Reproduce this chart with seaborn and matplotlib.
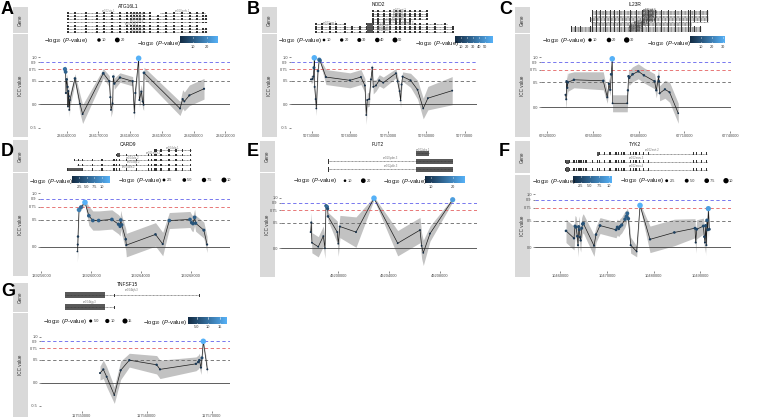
import numpy as np
import pandas as pd
import matplotlib
matplotlib.use("Agg")
import matplotlib.pyplot as plt
from matplotlib.colors import LinearSegmentedColormap
from matplotlib.patches import Rectangle
import seaborn as sns

sns.set_theme(style="white")
plt.rcParams["font.family"] = ["Liberation Sans", "DejaVu Sans"]
plt.rcParams["mathtext.fontset"] = "custom"
plt.rcParams["mathtext.rm"] = "Liberation Sans"
plt.rcParams["mathtext.it"] = "Liberation Sans:italic"

W, H = 763, 417
cmap = LinearSegmentedColormap.from_list("gg", ["#132B43", "#56B1F7"])
nan = np.nan

# ---------------- ICC data (position, ICC, CI half width, -log10 p) ----------------
a_pos = [234159460, 234159680, 234159780, 234160000, 234160310, 234160410, 234160510, 234160730, 234160830,
         234161040, 234162620, 234164200, 234165040, 234171560, 234173450, 234173770, 234173980, 234174500,
         234174710, 234175030, 234176810, 234180810, 234181340, 234181650, 234182700, 234182910, 234183540,
         234183960, 234184280, 234184390, 234195740, 234196580, 234197110, 234198690, 234203310]
a_icc = [0.75, 0.69, 0.24, 0.53, 0.37, -0.05, 0.28, 0.17, -0.12, 0.09, 0.55, 0.01, -0.21, 0.66, 0.49, 0.15,
         -0.12, 0.02, 0.59, 0.44, 0.57, 0.49, -0.18, 0.24, 0.98, 0.09, 0.27, 0.06, -0.01, 0.67, -0.09, 0.11,
         0.06, 0.19, 0.33]
a_ci = [0.08, 0.10, 0.15, 0.12, 0.15, 0.15, 0.15, 0.15, 0.15, 0.15, 0.10, 0.20, 0.20, 0.10, 0.12, 0.15, 0.15,
        0.15, 0.10, 0.12, 0.10, 0.10, 0.15, 0.15, 0.04, 0.15, 0.15, 0.15, 0.12, 0.12, 0.15, 0.20, 0.20, 0.22, 0.22]
a_logp = [15, 12, 3, 5, 3, 1.3, 3, 2, 2, 2, 5, 2, 2, 6, 4, 3, 2, 2, 5, 4, 4, 4, 2, 3, 27.3, 2, 3, 2, 2, 6,
          2, 3, 2, 3, 3]

b_pos = [50729820, 50730250, 50730430, 50730600, 50730690, 50730780, 50731040, 50731210, 50731650, 50731990,
         50732170, 50733730, 50740000, 50742870, 50743920, 50744260, 50744520, 50745050, 50745480, 50745830,
         50746090, 50746790, 50747660, 50748700, 50752010, 50752450, 50752970, 50753230, 50753490, 50753750,
         50755840, 50757670, 50759150, 50760370, 50766720]
b_icc = [0.53, 0.54, 0.59, 0.78, 0.99, 0.37, 0.11, -0.09, 0.71, 0.95, 0.93, 0.58, 0.51, 0.58, 0.40, -0.23,
         0.09, 0.11, 0.53, 0.78, 0.37, 0.40, 0.51, 0.46, 0.66, 0.49, 0.28, 0.08, 0.42, 0.59, 0.51, 0.31,
         -0.09, 0.13, 0.29]
b_ci = [0.08, 0.08, 0.08, 0.06, 0.03, 0.12, 0.15, 0.15, 0.08, 0.04, 0.04, 0.16, 0.16, 0.16, 0.15, 0.2, 0.15,
        0.15, 0.12, 0.08, 0.15, 0.12, 0.12, 0.12, 0.1, 0.12, 0.15, 0.15, 0.12, 0.1, 0.15, 0.2, 0.22, 0.25, 0.3]
b_logp = [3, 3, 4, 15, 64, 3, 2, 1, 10, 35, 25, 4, 4, 4, 3, 1, 2, 2, 3, 5, 2, 3, 3, 3, 4, 3, 2, 0.5, 3, 4,
          3, 2, 1, 2, 2]

c_pos = [67632020, 67632460, 67632670, 67633110, 67633550, 67637490, 67656750, 67659380, 67660470, 67661350,
         67662000, 67662660, 67662880, 67672510, 67672940, 67673380, 67673820, 67676010, 67679730, 67683450,
         67690450, 67691550, 67693080, 67693300, 67693740, 67697240, 67700300, 67705990]
c_icc = [0.25, 0.16, 0.52, 0.39, 0.50, 0.55, 0.53, 0.20, 0.47, 0.35, 0.66, 0.97, 0.08, 0.08, 0.34, 0.62,
         0.59, 0.66, 0.72, 0.64, 0.52, 0.34, 0.61, 0.52, 0.28, 0.36, 0.30, -0.12]
c_ci = [0.18, 0.18, 0.18, 0.18, 0.18, 0.16, 0.18, 0.12, 0.12, 0.12, 0.1, 0.03, 0.17, 0.17, 0.12, 0.15, 0.15,
        0.15, 0.15, 0.15, 0.15, 0.15, 0.15, 0.15, 0.15, 0.18, 0.2, 0.2]
c_logp = [2, 2, 4, 3, 4, 4, 4, 2, 3, 3, 6, 31.5, 1, 1, 3, 5, 4, 5, 5, 4, 4, 3, 4, 4, 2, 3, 2, 0.2]

d_pos = [139258900, 139258930, 139258950, 139259030, 139259190, 139259510, 139259820, 139260140, 139260610,
         139261670, 139262200, 139262330, 139262380, 139262460, 139262780, 139262830, 139265170, 139265750,
         139266280, 139267940, 139268070, 139268180, 139268310, 139268390, 139269050, 139269310]
d_icc = [-0.09, 0.04, 0.19, 0.69, 0.74, 0.83, 0.58, 0.49, 0.49, 0.51, 0.42, 0.38, 0.50, 0.41, 0.14, 0.03,
         0.23, 0.05, 0.49, 0.51, 0.45, 0.43, 0.55, 0.44, 0.31, 0.04]
d_ci = [0.2, 0.2, 0.2, 0.06, 0.05, 0.04, 0.18, 0.18, 0.18, 0.18, 0.18, 0.18, 0.18, 0.18, 0.2, 0.22, 0.22,
        0.22, 0.15, 0.15, 0.15, 0.15, 0.15, 0.15, 0.15, 0.15]
d_logp = [0.1, 0.8, 1.5, 8, 6, 12.8, 5, 5, 5, 5, 4, 4, 5, 4, 2, 1, 2, 1, 5, 5, 4, 4, 5, 4, 3, 1]

e_pos = [49197820, 49197870, 49197920, 49198420, 49198820, 49198950, 49199030, 49199110, 49199160, 49199190,
         49199920, 49200000, 49200130, 49201400, 49202820, 49204690, 49206450, 49206580, 49206710, 49207240,
         49209030]
e_icc = [0.32, 0.51, 0.11, 0.03, 0.24, 0.0, 0.84, 0.82, 0.78, 0.63, 0.32, 0.09, 0.43, 0.32, 0.99, 0.10,
         0.36, 0.05, -0.09, 0.29, 0.96]
e_ci = [0.2, 0.2, 0.2, 0.2, 0.2, 0.2, 0.05, 0.05, 0.05, 0.08, 0.22, 0.25, 0.22, 0.3, 0.03, 0.25, 0.25, 0.25,
        0.25, 0.15, 0.04]
e_logp = [8, 8.5, 7.6, 7.5, 7.8, 7.4, 13, 16, 12, 10, 8, 7.5, 8.5, 8, 25.6, 7.6, 8, 7.5, 7.4, 8, 23]

f_pos = [10461210, 10462920, 10463140, 10463350, 10463640, 10463780, 10463920, 10464060, 10464210, 10464350,
         10464560, 10464780, 10464920, 10467210, 10467630, 10468490, 10471920, 10472200, 10472490, 10472770,
         10473130, 10473840, 10474130, 10474340, 10474560, 10475060, 10476340, 10477060, 10479200, 10484410,
         10488830, 10488980, 10489190, 10490620, 10490830, 10490970, 10491120, 10491260, 10491400, 10491550,
         10491690, 10491900]
f_icc = [0.31, 0.17, 0.40, 0.38, 0.21, 0.04, 0.39, 0.33, 0.19, 0.13, 0.36, 0.44, 0.45, 0.03, 0.24, 0.41,
         0.33, 0.38, 0.35, 0.39, 0.42, 0.53, 0.58, 0.64, 0.54, 0.04, -0.08, 0.79, 0.15, 0.28, 0.36, 0.09,
         0.34, 0.40, 0.20, 0.09, 0.41, 0.04, 0.51, 0.33, 0.73, 0.34]
f_ci = [0.22, 0.22, 0.2, 0.2, 0.22, 0.22, 0.2, 0.2, 0.22, 0.22, 0.2, 0.18, 0.18, 0.2, 0.15, 0.15, 0.15, 0.15,
        0.15, 0.15, 0.15, 0.15, 0.12, 0.1, 0.12, 0.15, 0.1, 0.04, 0.25, 0.25, 0.18, 0.2, 0.18, 0.15, 0.2, 0.2,
        0.15, 0.2, 0.12, 0.15, 0.05, 0.15]
f_logp = [2, 1.5, 3, 3, 2, 1, 3, 2.5, 1.5, 1.5, 3, 3.5, 3.5, 1, 2, 2.5, 2.5, 3, 2.5, 3, 3.5, 4, 4.5, 5, 4, 1,
          0.44, 10.9, 1.5, 2, 2.5, 1, 2.5, 3, 2, 1, 3, 1, 4, 2.5, 9.5, 2.5]

g_pos = [117552820, 117553330, 117553840, 117555020, 117556000, 117557330, 117561530, 117562050, 117567580,
         117567940, 117568100, 117568350, 117568510, 117568710, 117569330]
g_icc = [0.21, 0.29, 0.13, -0.27, 0.27, 0.49, 0.39, 0.29, 0.41, 0.45, 0.49, 0.33, 0.54, 0.90, 0.29]
g_ci = [0.15, 0.2, 0.22, 0.18, 0.2, 0.15, 0.2, 0.2, 0.15, 0.15, 0.15, 0.15, 0.12, 0.03, 0.1]
g_logp = [2, 2.5, 2, 1.3, 2.5, 3, 3, 2.5, 3, 3.5, 3.5, 2.5, 5, 18, 2]

# ---------------- gene models ----------------
a_tx_start = [234160410, 234189430, 234160410, 234160410, 234160410, 234160410, 234160410, 234160410]
a_tx_end = [234186280, 234203630, 234204260, 234204260, 234204260, 234201100, 234204260, 234204260]
a_tx_row = [1, 1, 2, 3, 4, 5, 6, 7]
a_tx_name = ["uc002vtx.1", "uc010zmb.1", "uc002vty.3", "uc002vtz.3", "uc002vua.3", "uc002vub.3",
             "uc010fyy.3", "uc010fyz.3"]
a_thick_s = [nan] * 8
a_thick_e = [nan] * 8
a_exons = [234160410, 234162620, 234166090, 234169560, 234171770, 234174290, 234176810, 234179020, 234180280,
           234181230, 234182180, 234183120, 234184390, 234186280, 234188800, 234191330, 234193850, 234196370,
           234198900, 234201100, 234203000, 234203940]

b_tx_start = [50746010, 50746010, 50746010, 50746010, 50746010, 50731120, 50744440, 50731120, 50731120, 50731120]
b_tx_end = [50760100, 50760100, 50760100, 50760100, 50755670, 50738690, 50765330, 50766890, 50766890, 50766890]
b_tx_row = [1, 2, 3, 4, 5, 6, 6, 7, 8, 9]
b_tx_name = ["uc002egt.2", "uc010vgl.2", "uc002egu.2", "uc010vgm.1", "uc002egv.1", "uc002ego.1",
             "uc002egq.3", "uc002egr.3", "uc002egs.3", "uc010cbk.2"]
b_thick_s = [nan, nan, nan, nan, nan, nan, 50744440, 50744440, 50744440, 50744440]
b_thick_e = [nan, nan, nan, nan, nan, nan, 50746010, 50746010, 50746010, 50746010]
b_exons = [50731120, 50732690, 50734780, 50736340, 50738690, 50740520, 50742610, 50744440, 50745220, 50746010,
           50747310, 50748880, 50750440, 50752010, 50753050, 50754360, 50755670, 50756970, 50758280, 50760100,
           50762190, 50764800, 50766890]

c_tx_start = [67649740, 67649740, 67649740, 67649740, 67649740, 67649740, 67648430, 67648430, 67648430,
              67648430, 67649740, 67649740, 67649740, 67635960, 67635960, 67635960, 67635960, 67635960]
c_tx_end = [67725250, 67725250, 67725250, 67725250, 67725250, 67725250, 67725250, 67725250, 67725250,
            67725250, 67714090, 67714090, 67714090, 67720660, 67720660, 67720660, 67720660, 67720660]
c_tx_row = list(range(1, 19))
c_tx_name = ["uc001ddi.1", "uc001ddj.1", "uc009wbh.1", "uc001ddk.1", "uc001ddl.1", "uc009wbi.1",
             "uc001ddm.2", "uc001ddn.2", "uc010ooy.1", "uc010ooz.1", "uc001ddo.1", "uc001ddp.1",
             "uc009wbj.1", "uc001ddq.3", "uc001ddr.3", "uc010opa.1", "uc001dds.1", "uc001ddt.1"]
c_thick_s = [nan] * 18
c_thick_e = [nan] * 18
c_exons = [67635960, 67638580, 67641870, 67648430, 67649740, 67652370, 67655000, 67658280, 67661560, 67664190,
           67667470, 67670760, 67674700, 67678630, 67682570, 67686510, 67691110, 67695050, 67699650, 67704240,
           67708180, 67712780, 67714090, 67716720, 67720660, 67725250]

d_tx_start = [139265070, 139262060, 139258640, 139258900, 139258110]
d_tx_end = [139267990, 139267990, 139267990, 139267990, 139267990]
d_tx_row = [1, 2, 3, 4, 5]
d_tx_name = ["uc004clq.1", "uc011mez.2", "uc004clo.2", "uc004clp.2", "uc004cln.2"]
d_thick_s = [nan, 139262060, nan, nan, 139258110]
d_thick_e = [nan, 139262300, nan, nan, 139259300]
d_exons = [139258110, 139258350, 139258660, 139258980, 139259300, 139260090, 139260880, 139261830, 139262060,
           139262300, 139262850, 139263640, 139264590, 139264830, 139265070, 139265220, 139265620, 139266250,
           139266810, 139267360, 139267990]

e_tx_start = [49206130, 49199210, 49199210]
e_tx_end = [49207180, 49209080, 49209080]
e_tx_row = [1, 2, 3]
e_tx_name = ["uc002pkg.1", "uc010ydm.3", "uc002pkh.3"]
e_thick_s = [49206130, 49206130, 49206130]
e_thick_e = [49207180, 49209080, 49209080]
e_exons = [49199210]

f_tx_start = [10467910, 10461210, 10461210]
f_tx_end = [10491340, 10491340, 10491340]
f_tx_row = [1, 2, 3]
f_tx_name = ["uc002mot.2", "uc002mou.3", "uc002mov.4"]
f_thick_s = [10467910, 10461210, 10461210]
f_thick_e = [10468340, 10461920, 10461920]
f_exons = [10461210, 10461920, 10462920, 10463500, 10463840, 10464210, 10464570, 10464910, 10465490, 10466930,
           10467910, 10468340, 10469410, 10470630, 10471920, 10472410, 10473140, 10473630, 10475060, 10475620,
           10476200, 10476910, 10477760, 10478830, 10488470, 10489200, 10490270, 10491340]

g_tx_start = [117547430, 117547430]
g_tx_end = [117568090, 117555020]
g_tx_row = [1, 2]
g_tx_name = ["uc004bjh.3", "uc004bjg.3"]
g_thick_s = [117547430, 117547430]
g_thick_e = [117553580, 117553580]
g_exons = [117555020, 117555120, 117556050, 117568090]

# ---------------- layout (pixel coordinates) ----------------
panels = [
    dict(letter="A", letter_xy=(1, 1), title="ATG16L1", title_xy=(128, 6), strip_x=(13, 28),
         gene_strip=(7.3, 32.7), icc_strip=(34.3, 137), gene_box=(40, 11, 230, 34), icc_box=(40, 55, 230, 131),
         xlim=(234151600, 234211500), ylim=(-0.57, 1.05),
         xticks=[234160000, 234170000, 234180000, 234190000, 234200000, 234210000],
         exon_px=1.2, exon_h=0.6, thick_h=0.8, label_off=0.5, label_color="#8A8A8A",
         size_title=(44, 40), size_dots=[99, 117.3], size_breaks=[10, 20],
         color_title=(137, 43), bar=(180, 37, 218, 43.3), color_breaks=[10, 20]),
    dict(letter="B", letter_xy=(247, 1), title="NOD2", title_xy=(378, 4.5), strip_x=(262, 277),
         gene_strip=(7.3, 32.7), icc_strip=(34.3, 137), gene_box=(291, 10, 477, 33), icc_box=(291, 55, 477, 131),
         xlim=(50724600, 50773200), ylim=(-0.57, 1.05),
         xticks=[50730000, 50740000, 50750000, 50760000, 50770000],
         exon_px=1.4, exon_h=0.85, thick_h=1.0, label_off=0.5, label_color="#777777",
         size_title=(278, 40), size_dots=[324, 341.7, 359.3, 377.3, 395], size_breaks=[10, 20, 30, 40, 50],
         color_title=(415, 43), bar=(455, 37, 493, 43.3), color_breaks=[10, 20, 30, 40, 50]),
    dict(letter="C", letter_xy=(499, 1), title="IL23R", title_xy=(635, 4.5), strip_x=(515, 530),
         gene_strip=(7.3, 32.7), icc_strip=(34.3, 137), gene_box=(541, 10, 731, 32), icc_box=(541, 55, 731, 131),
         xlim=(67615900, 67740600), ylim=(-0.474, 1.046),
         xticks=[67620000, 67650000, 67680000, 67710000, 67740000],
         exon_px=1.6, exon_h=1.0, thick_h=1.0, label_off=0.5, label_color="#333333",
         size_title=(542, 40), size_dots=[590, 609, 626.7], size_breaks=[10, 20, 30],
         color_title=(647, 43), bar=(690, 37, 725, 43.3), color_breaks=[10, 20, 30]),
    dict(letter="D", letter_xy=(1, 143), title="CARD9", title_xy=(128, 144), strip_x=(13, 28),
         gene_strip=(140, 171.7), icc_strip=(173.3, 276), gene_box=(40, 148, 230, 172), icc_box=(40, 191, 230, 271),
         xlim=(139255900, 139271150), ylim=(-0.455, 1.043),
         xticks=[139256000, 139260000, 139264000, 139268000],
         exon_px=1.4, exon_h=0.5, thick_h=0.75, label_off=0.5, label_color="#777777",
         size_title=(118, 180), size_dots=[164, 184.3, 204, 224], size_breaks=[2.5, 5.0, 7.5, 10.0],
         color_title=(29, 181.5), bar=(72, 176.7, 110, 183.3), color_breaks=[2.5, 5.0, 7.5, 10.0]),
    dict(letter="E", letter_xy=(247, 143), title="FUT2", title_xy=(378, 144), strip_x=(260, 275),
         gene_strip=(141, 171.7), icc_strip=(173.3, 277), gene_box=(281, 149.3, 477, 173.3),
         icc_box=(281, 195, 477, 271),
         xlim=(49195480, 49210950), ylim=(-0.449, 1.053),
         xticks=[49200000, 49204000, 49208000],
         exon_px=0.8, exon_h=0.55, thick_h=0.56, label_off=0.45, label_color="#777777",
         size_title=(293, 180.7), size_dots=[345, 363.3], size_breaks=[10, 20],
         color_title=(383, 181.7), bar=(425, 176.7, 465, 183.3), color_breaks=[10, 20]),
    dict(letter="F", letter_xy=(499, 143), title="TYK2", title_xy=(635, 145), strip_x=(515, 530),
         gene_strip=(141, 172.7), icc_strip=(174.5, 277), gene_box=(535, 150, 731, 173.5),
         icc_box=(535, 192, 731, 271),
         xlim=(10454570, 10496540), ylim=(-0.447, 1.043),
         xticks=[10460000, 10470000, 10480000, 10490000],
         exon_px=1.3, exon_h=0.4, thick_h=0.55, label_off=0.45, label_color="#777777",
         size_title=(620, 180.7), size_dots=[666.7, 686.7, 706.7, 726], size_breaks=[2.5, 5.0, 7.5, 10.0],
         color_title=(532, 181.7), bar=(573, 176, 612, 183), color_breaks=[2.5, 5.0, 7.5, 10.0]),
    dict(letter="G", letter_xy=(1, 283), title="TNFSF15", title_xy=(128, 285), strip_x=(13, 28),
         gene_strip=(283.3, 311.7), icc_strip=(313.3, 417), gene_box=(41, 289, 230, 313.5),
         icc_box=(41, 334, 230, 411),
         xlim=(117543740, 117572820), ylim=(-0.615, 1.059),
         xticks=[117550000, 117560000, 117570000],
         exon_px=0.9, exon_h=0.25, thick_h=0.5, label_off=0.4, label_color="#777777",
         size_title=(43, 321), size_dots=[90.7, 107.3, 125], size_breaks=[5, 10, 15],
         color_title=(143, 322.3), bar=(188, 317.3, 227, 324), color_breaks=[5, 10, 15]),
]

icc_data = [(a_pos, a_icc, a_ci, a_logp), (b_pos, b_icc, b_ci, b_logp), (c_pos, c_icc, c_ci, c_logp),
            (d_pos, d_icc, d_ci, d_logp), (e_pos, e_icc, e_ci, e_logp), (f_pos, f_icc, f_ci, f_logp),
            (g_pos, g_icc, g_ci, g_logp)]
gene_data = [(a_tx_start, a_tx_end, a_tx_row, a_tx_name, a_thick_s, a_thick_e, a_exons),
             (b_tx_start, b_tx_end, b_tx_row, b_tx_name, b_thick_s, b_thick_e, b_exons),
             (c_tx_start, c_tx_end, c_tx_row, c_tx_name, c_thick_s, c_thick_e, c_exons),
             (d_tx_start, d_tx_end, d_tx_row, d_tx_name, d_thick_s, d_thick_e, d_exons),
             (e_tx_start, e_tx_end, e_tx_row, e_tx_name, e_thick_s, e_thick_e, e_exons),
             (f_tx_start, f_tx_end, f_tx_row, f_tx_name, f_thick_s, f_thick_e, f_exons),
             (g_tx_start, g_tx_end, g_tx_row, g_tx_name, g_thick_s, g_thick_e, g_exons)]

S_MIN, S_MAX = 1.5, 16.0
LEG_TITLE = r"$-\log_{10}$ ($P$-value)"

fig = plt.figure(figsize=(W / 100, H / 100), dpi=100)
ov = fig.add_axes([0, 0, 1, 1])
ov.set_xlim(0, W)
ov.set_ylim(H, 0)
ov.axis("off")


def px_axes(x0, y0, x1, y1):
    ax = fig.add_axes([x0 / W, 1 - y1 / H, (x1 - x0) / W, (y1 - y0) / H])
    ax.set_facecolor("none")
    return ax


def fmt(b):
    return "%d" % b if float(b).is_integer() and max(1, b) >= 10 else "%.1f" % b


for cfg, (pos, icc, ci, logp), genes in zip(panels, icc_data, gene_data):
    df = pd.DataFrame({"pos": pos, "icc": icc, "ci": ci, "logp": logp})
    df["lo"] = df.icc - df.ci
    df["hi"] = df.icc + df.ci
    pmin, pmax = df.logp.min(), df.logp.max()

    # letter, title, strips
    ov.text(*cfg["letter_xy"], cfg["letter"], fontsize=13, fontweight="bold", ha="left", va="top", color="black")
    ov.text(*cfg["title_xy"], cfg["title"], fontsize=3.5, ha="center", va="center", color="#111111")
    sx0, sx1 = cfg["strip_x"]
    for (sy0, sy1), lab in [(cfg["gene_strip"], "Gene"), (cfg["icc_strip"], "ICC value")]:
        ov.add_patch(Rectangle((sx0, sy0), sx1 - sx0, sy1 - sy0, color="#D9D9D9", lw=0))
        ov.text((sx0 + sx1) / 2, (sy0 + sy1) / 2, lab, rotation=90, fontsize=3.3, ha="center", va="center",
                color="#333333")

    # gene track
    gx0, gy0, gx1, gy1 = cfg["gene_box"]
    gax = px_axes(gx0, gy0, gx1, gy1)
    gax.set_xlim(cfg["xlim"])
    nrows = max(genes[2])
    gax.set_ylim(nrows + 0.5, 0.5)
    gax.axis("off")
    bp_px = (cfg["xlim"][1] - cfg["xlim"][0]) / (gx1 - gx0)
    ew = cfg["exon_px"] * bp_px
    tx = pd.DataFrame({"start": genes[0], "end": genes[1], "row": genes[2], "name": genes[3],
                       "ts": genes[4], "te": genes[5]})
    for _, t in tx.iterrows():
        gax.plot([t.start, t.end], [t.row, t.row], color="#333333", lw=0.4, ls=(0, (1.6, 0.9)))
        for e in genes[6]:
            if t.start - 1 <= e <= t.end + 1:
                gax.add_patch(Rectangle((e - ew / 2, t.row - cfg["exon_h"] / 2), ew, cfg["exon_h"],
                                        color="#333333", lw=0))
        if not np.isnan(t.ts):
            gax.add_patch(Rectangle((t.ts, t.row - cfg["thick_h"] / 2), t.te - t.ts, cfg["thick_h"],
                                    color="#595959", lw=0))
        gax.text((t.start + t.end) / 2, t.row - cfg["label_off"], t["name"], fontsize=2.0,
                 color=cfg["label_color"], ha="center", va="center")

    # ICC plot
    ix0, iy0, ix1, iy1 = cfg["icc_box"]
    ax = px_axes(ix0, iy0, ix1, iy1)
    ax.fill_between(df.pos, df.lo, df.hi, color="#C2C2C2", lw=0, zorder=1)
    ax.axhline(0.9, color="#6262EC", lw=0.6, ls=(0, (4, 3)), zorder=2)
    ax.axhline(0.75, color="#E46262", lw=0.6, ls=(0, (4, 3)), zorder=2)
    ax.axhline(0.5, color="#666666", lw=0.6, ls=(0, (4, 3)), zorder=2)
    ax.axhline(0.0, color="#444444", lw=0.6, zorder=2)
    sns.lineplot(data=df, x="pos", y="icc", ax=ax, color="#1A1A1A", lw=0.5, estimator=None, sort=True, zorder=3)
    sns.scatterplot(data=df, x="pos", y="icc", hue="logp", size="logp", palette=cmap, hue_norm=(pmin, pmax),
                    sizes=(S_MIN, S_MAX), size_norm=(pmin, pmax), linewidth=0, legend=False, ax=ax, zorder=4)
    ax.set_xlim(cfg["xlim"])
    ax.set_ylim(cfg["ylim"])
    yt = [v for v in [-0.5, 0.0, 0.5, 0.75, 0.9, 1.0] if cfg["ylim"][0] <= v <= cfg["ylim"][1]]
    ax.set_yticks(yt)
    ax.set_yticklabels(["%.2f" % v if v == 0.75 else "%.1f" % v for v in yt])
    ax.set_xticks(cfg["xticks"])
    ax.set_xticklabels([str(t) for t in cfg["xticks"]])
    ax.set_xlabel("")
    ax.set_ylabel("")
    for s in ax.spines.values():
        s.set_visible(False)
    ax.tick_params(axis="both", length=1.5, width=0.4, color="#333333", labelsize=2.9, pad=0.8,
                   labelcolor="#4D4D4D", bottom=True, left=True)

    # size legend
    tx0, ty0 = cfg["size_title"]
    ov.text(tx0, ty0, LEG_TITLE, fontsize=4.2, ha="left", va="center", color="#111111")
    sz = S_MIN + (np.array(cfg["size_breaks"]) - pmin) / (pmax - pmin) * (S_MAX - S_MIN)
    ov.scatter(cfg["size_dots"], [ty0] * len(sz), s=sz, color="black", lw=0)
    for xd, b in zip(cfg["size_dots"], cfg["size_breaks"]):
        ov.text(xd + 3, ty0, fmt(b), fontsize=2.8, ha="left", va="center", color="#333333")

    # colour legend
    cx0, cy0 = cfg["color_title"]
    ov.text(cx0, cy0, LEG_TITLE, fontsize=4.2, ha="left", va="center", color="#111111")
    bx0, by0, bx1, by1 = cfg["bar"]
    ov.imshow(np.linspace(0, 1, 256).reshape(1, -1), cmap=cmap, aspect="auto",
              extent=(bx0, bx1, by1, by0), zorder=2)
    for b in cfg["color_breaks"]:
        xb = bx0 + (b - pmin) / (pmax - pmin) * (bx1 - bx0)
        ov.plot([xb, xb], [by0, by0 + 1.2], color="white", lw=0.4, zorder=3)
        ov.plot([xb, xb], [by1 - 1.2, by1], color="white", lw=0.4, zorder=3)
        ov.text(xb, by1 + 3.3, fmt(b), fontsize=2.8, ha="center", va="center", color="#333333")

ov.set_xlim(0, W)
ov.set_ylim(H, 0)
fig.savefig("out.png", dpi=100)
